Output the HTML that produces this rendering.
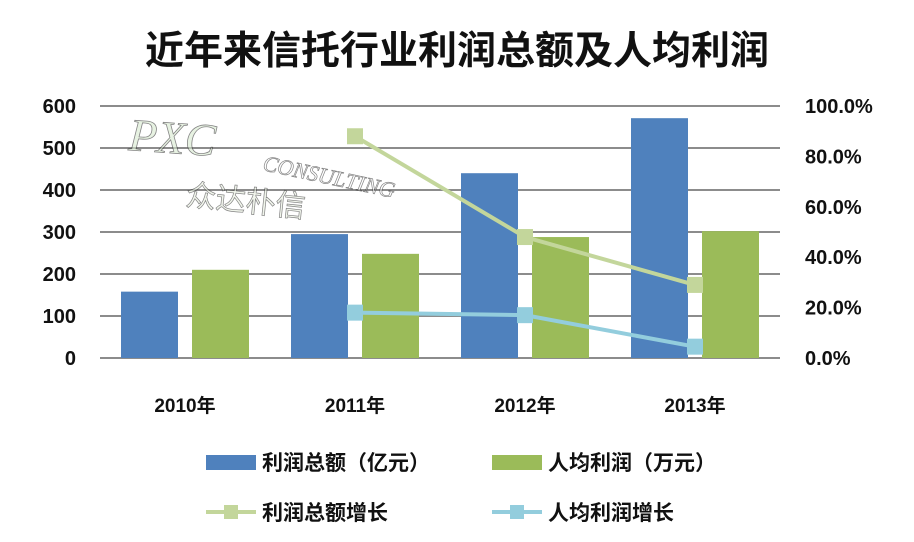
<!DOCTYPE html>
<html><head><meta charset="utf-8"><style>
body{margin:0;background:#fff;}
svg text{font-family:"Liberation Sans","Noto Sans CJK SC",sans-serif;}
svg text.serif{font-family:"Liberation Serif",serif;}
</style></head><body>
<svg width="914" height="537" xmlns="http://www.w3.org/2000/svg">
<rect width="914" height="537" fill="#fff"/>
<text x="457" y="64" text-anchor="middle" font-size="39" font-weight="bold" fill="#111">近年来信托行业利润总额及人均利润</text>
<g id="grid"></g>
<g id="wm" opacity="0.6">
<text class="serif" x="128" y="150" font-size="46" font-style="italic" fill="#d8ead0" stroke="#333" stroke-width="0.8" transform="rotate(4 128 150)">PXC</text>
<text class="serif" x="262" y="170" font-size="22" font-style="italic" fill="#fff" stroke="#333" stroke-width="0.7" transform="rotate(12 262 170)">CONSULTING</text>
<text x="185" y="205" font-size="30" fill="#e8f0e0" stroke="#333" stroke-width="0.7" transform="rotate(6 185 205)">众达朴信</text>
</g>
<g id="bars"></g><g id="lines"></g><g id="axes"></g>
<g font-size="21" font-weight="bold" fill="#111">
<rect x="206" y="455" width="50" height="15" fill="#4f81bd"/>
<text x="262" y="470">利润总额（亿元）</text>
<rect x="492" y="455" width="50" height="15" fill="#9bbb59"/>
<text x="548" y="470">人均利润（万元）</text>
<line x1="206" y1="512" x2="256" y2="512" stroke="#c3d69b" stroke-width="4"/>
<rect x="224" y="505" width="14" height="14" fill="#c3d69b"/>
<text x="262" y="520">利润总额增长</text>
<line x1="492" y1="512" x2="542" y2="512" stroke="#93cddd" stroke-width="4"/>
<rect x="510" y="505" width="14" height="14" fill="#93cddd"/>
<text x="548" y="520">人均利润增长</text>
</g>
</svg>
<script>
const categories=["2010年","2011年","2012年","2013年"];
const totalProfit=[158,295,440,571];
const perCapita=[210,248,288,302];
const totalGrowth=[null,88,48,29];
const perCapitaGrowth=[null,18,17,4.5];
const leftTicks=[0,100,200,300,400,500,600];
const rightTicks=[0,20,40,60,80,100];
const NS="http://www.w3.org/2000/svg";
const X0=100,X1=780,Y0=358,Y1=106;
const bw=(X1-X0)/categories.length;
const cx=i=>X0+bw*(i+0.5);
const yL=v=>Y0-(v/600)*(Y0-Y1);
const yR=v=>Y0-(v/100)*(Y0-Y1);
function mk(tag,attrs,parent,txt){const e=document.createElementNS(NS,tag);for(const k in attrs)e.setAttribute(k,attrs[k]);if(txt!==undefined)e.textContent=txt;document.getElementById(parent).appendChild(e);return e;}
leftTicks.forEach(t=>{const l=mk('line',{x1:X0,x2:X1,y1:yL(t),y2:yL(t),stroke:'#8c8c8c','stroke-width':2},'grid');


const tx=mk('text',{x:76,y:yL(t)+7,'text-anchor':'end','font-size':20,'font-weight':'bold',fill:'#111'},'axes',t);

});
rightTicks.forEach(t=>{const tx=mk('text',{x:805,y:yR(t)+7,'font-size':20,'font-weight':'bold',fill:'#111'},'axes',t.toFixed(1)+'%');

});
categories.forEach((c,i)=>{const tx=mk('text',{x:cx(i),y:412,'text-anchor':'middle','font-size':19,'font-weight':'bold',fill:'#111'},'axes',c);


const b1=mk('rect',{x:cx(i)-64,y:yL(totalProfit[i]),width:57,height:Y0-yL(totalProfit[i]),fill:'#4f81bd'},'bars');


const b2=mk('rect',{x:cx(i)+7,y:yL(perCapita[i]),width:57,height:Y0-yL(perCapita[i]),fill:'#9bbb59'},'bars');

});
function series(arr,color,name){const pts=[];arr.forEach((v,i)=>{if(v!==null)pts.push([cx(i),yR(v)]);});
const pl=mk('polyline',{points:pts.map(p=>p.join(',')).join(' '),fill:'none',stroke:color,'stroke-width':4},'lines');


pts.forEach(p=>{const r=mk('rect',{x:p[0]-8,y:p[1]-8,width:16,height:16,fill:color},'lines');

});}
series(totalGrowth,'#c3d69b','total-growth');
series(perCapitaGrowth,'#93cddd','per-capita-growth');
</script>
</body></html>
